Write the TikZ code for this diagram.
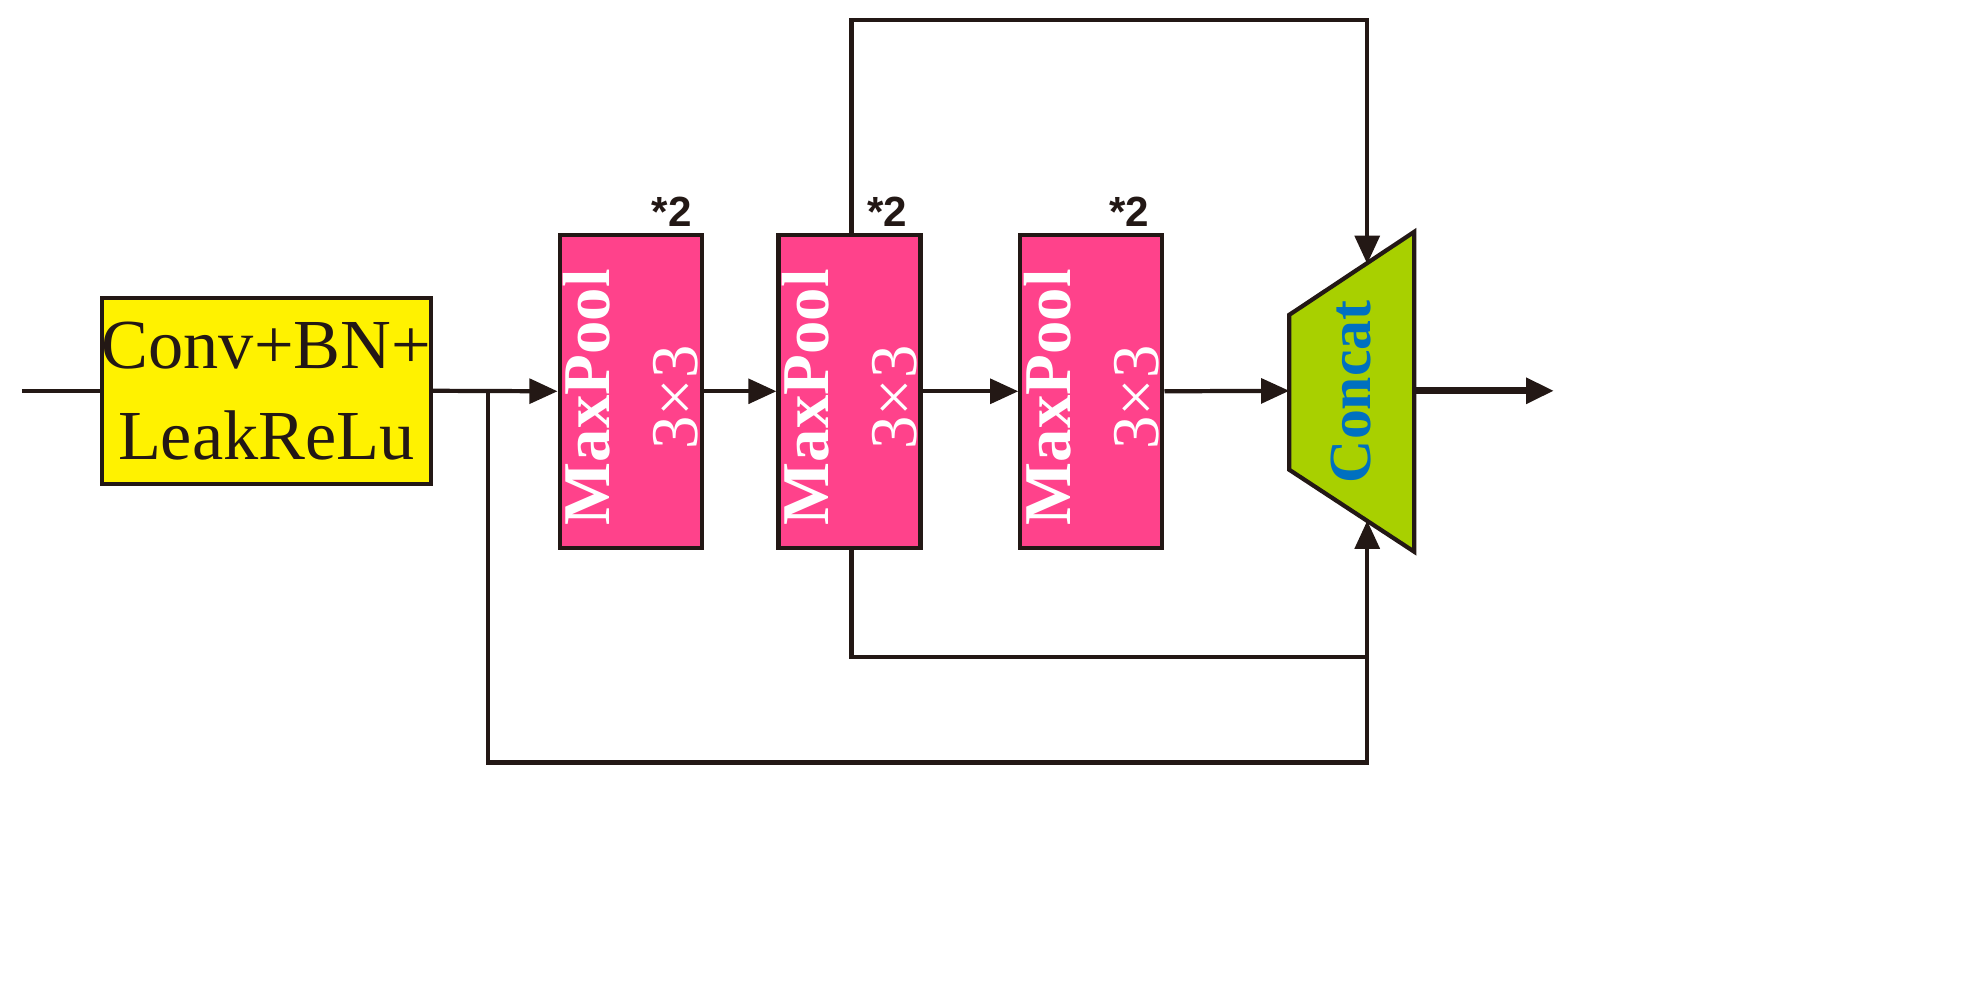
\documentclass[tikz,border=0pt]{standalone}
\usepackage{fontspec}
\setmainfont{Liberation Serif}
\newfontfamily\sansf{Liberation Sans}
\usetikzlibrary{arrows.meta,calc}
\definecolor{ylw}{HTML}{FFF200}
\definecolor{pnk}{HTML}{FF428B}
\definecolor{grn}{HTML}{A8D000}
\definecolor{blu}{HTML}{0070C0}
\definecolor{ink}{HTML}{231815}
\begin{document}
\begin{tikzpicture}
\useasboundingbox[fill=white] (0,0) rectangle (19.87,-9.92);
\begin{scope}[x=0.01cm,y=-0.01cm,
  line width=1.2pt, draw=ink,
  arr/.style={-{Triangle[length=8pt,width=7pt]}},
  pool/.style={draw=ink,fill=pnk,minimum width=1.42cm,minimum height=3.13cm,inner sep=0pt},
  ptxt/.style={text=white,font=\fontsize{19}{25}\selectfont,rotate=90,align=center,inner sep=0pt},
  rep/.style={font=\sansf\bfseries\fontsize{12}{14}\selectfont,text=ink}]
\coordinate (in) at (22,391);
\node[draw=ink,fill=ylw,minimum width=3.27cm,minimum height=1.86cm,align=center,inner sep=0pt,
  font=\fontsize{20}{26}\selectfont,text=ink] (cbl) at (266.5,391) {Conv+BN+\\LeakReLu};
\node[pool] (p1) at (631,391.5) {};
\node[pool] (p2) at (850,391.5) {};
\node[pool] (p3) at (1092,391.5) {};
\foreach \p in {p1,p2,p3}
  \node[ptxt] at ($(\p)+(0,6)$) {\textbf{MaxPool}\\3×3};
\node[rep] at (672,212) {*2};
\node[rep] at (888,212) {*2};
\node[rep] at (1130,212) {*2};
\coordinate (ctl) at (1290,315);
\coordinate (cbl2) at (1290,470);
\coordinate (ctr) at (1415,232);
\coordinate (cbr) at (1415,552);
\draw[fill=grn] (ctl) -- (ctr) -- (cbr) -- (cbl2) -- cycle;
\node[rotate=90,text=blu,font=\bfseries\fontsize{17}{19}\selectfont,inner sep=0pt] (cc) at (1352,392) {Concat};
\coordinate (cin) at (1290,391);
\coordinate (cout) at (1415,391);
\coordinate (out) at (1555,391);
\coordinate (ctop) at (1368,264);
\coordinate (cbot) at (1368,521);
\coordinate (br) at (488,391);
\coordinate (t1) at (852,20);
\coordinate (t2) at (1368,20);
\coordinate (b1) at (852,657);
\coordinate (b2) at (1368,657);
\coordinate (l1) at (488,763);
\coordinate (l2) at (1368,763);
\draw (in) -- (cbl.west);
\draw[arr] (cbl.east) -- (p1.west);
\draw[arr] (p1.east) -- (p2.west);
\draw[arr] (p2.east) -- (p3.west);
\draw[arr] (p3.east) -- (cin);
\draw[arr,line width=2pt] (cout) -- (out);
\draw[arr] (p2.north -| t1) -- (t1) -- (t2) -- (ctop);
\draw (p2.south -| b1) -- (b1) -- (b2);
\draw[arr] (br) -- (l1) -- (l2) -- (cbot);
\end{scope}
\end{tikzpicture}
\end{document}
